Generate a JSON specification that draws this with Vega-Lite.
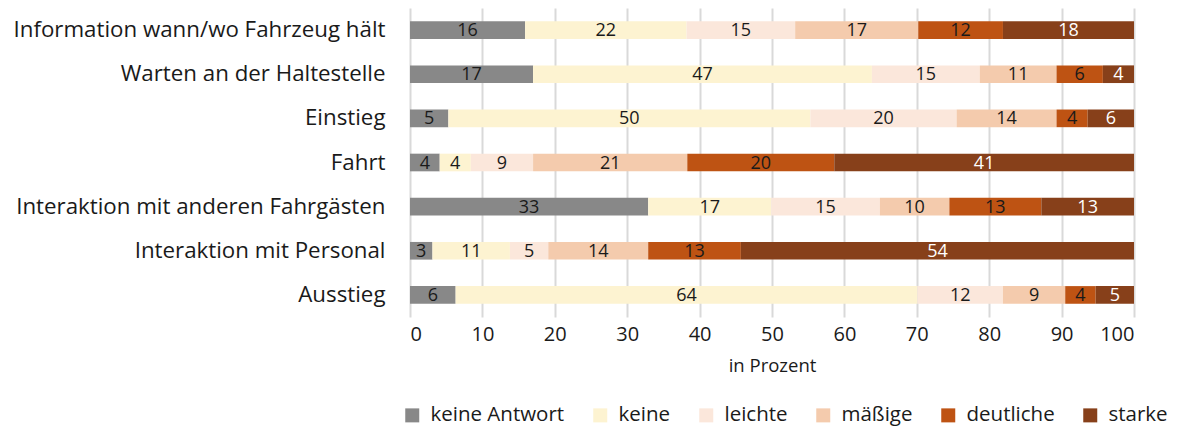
{
  "$schema": "https://vega.github.io/schema/vega-lite/v6.json",
  "autosize": "none",
  "width": 724,
  "height": 309,
  "padding": {"left": 410, "top": 8, "right": 44, "bottom": 110},
  "background": "white",
  "config": {
    "font": "Open Sans",
    "view": {"stroke": null},
    "axis": {"labelColor": "#1a1a1a", "titleColor": "#1a1a1a", "labelFont": "Open Sans", "titleFont": "Open Sans"},
    "legend": {"labelFont": "Open Sans"}
  },
  "data": {"values": [
    {"item": "Information wann/wo Fahrzeug hält", "kat": "keine Antwort", "o": 1, "v": 15.9},
    {"item": "Information wann/wo Fahrzeug hält", "kat": "keine", "o": 2, "v": 22.3},
    {"item": "Information wann/wo Fahrzeug hält", "kat": "leichte", "o": 3, "v": 15.0},
    {"item": "Information wann/wo Fahrzeug hält", "kat": "mäßige", "o": 4, "v": 17.0},
    {"item": "Information wann/wo Fahrzeug hält", "kat": "deutliche", "o": 5, "v": 11.7},
    {"item": "Information wann/wo Fahrzeug hält", "kat": "starke", "o": 6, "v": 18.1},
    {"item": "Warten an der Haltestelle", "kat": "keine Antwort", "o": 1, "v": 17.0},
    {"item": "Warten an der Haltestelle", "kat": "keine", "o": 2, "v": 46.8},
    {"item": "Warten an der Haltestelle", "kat": "leichte", "o": 3, "v": 14.9},
    {"item": "Warten an der Haltestelle", "kat": "mäßige", "o": 4, "v": 10.6},
    {"item": "Warten an der Haltestelle", "kat": "deutliche", "o": 5, "v": 6.4},
    {"item": "Warten an der Haltestelle", "kat": "starke", "o": 6, "v": 4.3},
    {"item": "Einstieg", "kat": "keine Antwort", "o": 1, "v": 5.3},
    {"item": "Einstieg", "kat": "keine", "o": 2, "v": 50.0},
    {"item": "Einstieg", "kat": "leichte", "o": 3, "v": 20.2},
    {"item": "Einstieg", "kat": "mäßige", "o": 4, "v": 13.8},
    {"item": "Einstieg", "kat": "deutliche", "o": 5, "v": 4.3},
    {"item": "Einstieg", "kat": "starke", "o": 6, "v": 6.4},
    {"item": "Fahrt", "kat": "keine Antwort", "o": 1, "v": 4.1},
    {"item": "Fahrt", "kat": "keine", "o": 2, "v": 4.3},
    {"item": "Fahrt", "kat": "leichte", "o": 3, "v": 8.6},
    {"item": "Fahrt", "kat": "mäßige", "o": 4, "v": 21.3},
    {"item": "Fahrt", "kat": "deutliche", "o": 5, "v": 20.3},
    {"item": "Fahrt", "kat": "starke", "o": 6, "v": 41.4},
    {"item": "Interaktion mit anderen Fahrgästen", "kat": "keine Antwort", "o": 1, "v": 32.9},
    {"item": "Interaktion mit anderen Fahrgästen", "kat": "keine", "o": 2, "v": 17.0},
    {"item": "Interaktion mit anderen Fahrgästen", "kat": "leichte", "o": 3, "v": 15.0},
    {"item": "Interaktion mit anderen Fahrgästen", "kat": "mäßige", "o": 4, "v": 9.6},
    {"item": "Interaktion mit anderen Fahrgästen", "kat": "deutliche", "o": 5, "v": 12.7},
    {"item": "Interaktion mit anderen Fahrgästen", "kat": "starke", "o": 6, "v": 12.8},
    {"item": "Interaktion mit Personal", "kat": "keine Antwort", "o": 1, "v": 3.1},
    {"item": "Interaktion mit Personal", "kat": "keine", "o": 2, "v": 10.7},
    {"item": "Interaktion mit Personal", "kat": "leichte", "o": 3, "v": 5.3},
    {"item": "Interaktion mit Personal", "kat": "mäßige", "o": 4, "v": 13.8},
    {"item": "Interaktion mit Personal", "kat": "deutliche", "o": 5, "v": 12.8},
    {"item": "Interaktion mit Personal", "kat": "starke", "o": 6, "v": 54.3},
    {"item": "Ausstieg", "kat": "keine Antwort", "o": 1, "v": 6.3},
    {"item": "Ausstieg", "kat": "keine", "o": 2, "v": 63.8},
    {"item": "Ausstieg", "kat": "leichte", "o": 3, "v": 11.8},
    {"item": "Ausstieg", "kat": "mäßige", "o": 4, "v": 8.6},
    {"item": "Ausstieg", "kat": "deutliche", "o": 5, "v": 4.2},
    {"item": "Ausstieg", "kat": "starke", "o": 6, "v": 5.3}
  ]},
  "transform": [
    {"stack": "v", "groupby": ["item"], "sort": [{"field": "o", "order": "ascending"}], "as": ["x0", "x1"]},
    {"calculate": "(datum.x0 + datum.x1) / 2", "as": "xm"}
  ],
  "encoding": {
    "y": {
      "field": "item", "type": "nominal",
      "sort": ["Information wann/wo Fahrzeug hält", "Warten an der Haltestelle", "Einstieg", "Fahrt", "Interaktion mit anderen Fahrgästen", "Interaktion mit Personal", "Ausstieg"],
      "scale": {"paddingInner": 0.6, "paddingOuter": 0.3},
      "axis": {"title": null, "ticks": false, "domain": false, "labelPadding": 25, "labelFontSize": 22.3, "labelLimit": 420}
    }
  },
  "layer": [
    {
      "mark": {"type": "bar"},
      "encoding": {
        "x": {
          "field": "x0", "type": "quantitative",
          "scale": {"domain": [0, 100], "nice": false},
          "axis": {
            "title": "in Prozent", "titleFontSize": 18.5, "titleFontWeight": "normal", "titlePadding": 12,
            "values": [0, 10, 20, 30, 40, 50, 60, 70, 80, 90, 100],
            "grid": true, "gridColor": "#d9d9d9", "gridWidth": 2,
            "domain": false, "ticks": false, "labelPadding": 7, "labelFontSize": 20
          }
        },
        "x2": {"field": "x1"},
        "color": {
          "field": "kat", "type": "nominal",
          "scale": {
            "domain": ["keine Antwort", "keine", "leichte", "mäßige", "deutliche", "starke"],
            "range": ["#888888", "#FDF3D1", "#FBE7DB", "#F4CBAD", "#BE5313", "#87401A"]
          },
          "legend": {
            "title": null, "orient": "none", "direction": "horizontal",
            "legendX": -8, "legendY": 397,
            "symbolType": "square", "symbolSize": 196, "symbolStrokeWidth": 0,
            "labelFontSize": 20.5, "labelColor": "#1a1a1a", "columnPadding": 25, "labelOffset": 8
          }
        }
      }
    },
    {
      "mark": {"type": "text", "fontSize": 18, "baseline": "middle", "align": "center", "dy": 1},
      "encoding": {
        "x": {"field": "xm", "type": "quantitative"},
        "text": {"field": "v", "type": "quantitative", "format": ".0f"},
        "color": {
          "condition": {"test": "datum.kat === 'starke'", "value": "#ffffff"},
          "value": "#1a1a1a"
        }
      }
    }
  ]
}
